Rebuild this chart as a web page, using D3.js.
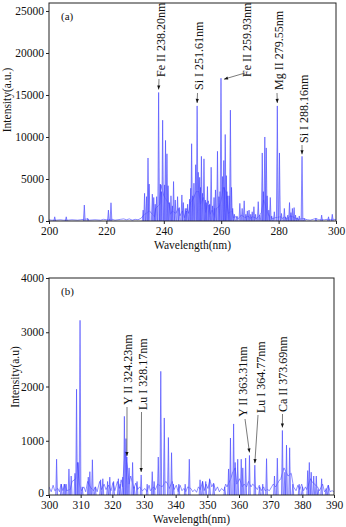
<!DOCTYPE html>
<html>
<head>
<meta charset="utf-8">
<script src="https://cdn.jsdelivr.net/npm/d3@7"></script>
<style>
    body { margin: 0; background: #fff; }
    text { font-family: "Liberation Serif", "Times New Roman", serif; }
</style>
</head>
<body>
<div id="wrapper"></div>
<script>
// panel (a): 200-300 nm
const xTicksA = [200, 220, 240, 260, 280, 300]
const yTicksA = [0, 5000, 10000, 15000, 20000, 25000]
const baseA = [
    [200,150],[201,100],[202.5,100],[204,150],[205,100],[206.6,100],[208,150],[210,100],[211,150],
    [213.5,250],[214,100],[216,150],[218,100],[219,200],[220,150],[222,200],[223,100],[225,200],
    [226,250],[227,150],[228,250],[229,100],[230,200],[231,150],[232,300],[233,700],[235,1200],
    [236.8,500],[237.2,1500],[238.6,2000],[239,4300],[240,3000],[241.8,2000],[242.3,800],[243,1200],
    [244.2,900],[245,1500],[245.6,600],[246.5,1200],[247.2,400],[248,1500],[248.7,900],[249.3,2200],
    [250.2,2600],[251.3,3500],[252.2,3500],[252.8,2000],[253.8,2800],[254.6,1000],[255.5,2400],
    [256.2,800],[256.8,1300],[257.8,400],[258.3,1500],[259.5,1800],[260.3,3000],[260.7,4000],
    [261.6,3500],[262,2000],[262.5,900],[263.8,1200],[264.3,400],[265,500],[266,300],[267,700],
    [268.3,400],[269.4,600],[270,300],[271,500],[272.4,300],[273.2,600],[274,1000],[274.8,2500],
    [276.3,800],[277.3,400],[278,300],[279,400],[280.6,500],[281.5,300],[282,500],[283,200],[284,600],
    [285,500],[286,300],[287,200],[288.5,300],[289.5,200],[290,150],[291,100],[292,200],[293,300],
    [294,150],[295.5,150],[296,150],[297,200],[298,150],[299.2,200],[300,150]
]
const peaksA = [
    [202,500],[206,500],[212.3,1900],[213.5,300],[220.7,1300],[221.6,2170],[232.8,1300],[233.3,3300],
    [234,2900],[234.5,7500],[234.9,4400],[236,3200],[236.5,2800],[237,2000],[237.5,2900],[238.2,15300],
    [238.8,4400],[239.2,3500],[239.6,12000],[240.3,4300],[240.6,9600],[241.1,8000],[241.5,4200],
    [242,2200],[242.5,3000],[243,1800],[243.4,4700],[244,2500],[244.8,2900],[245.4,1600],[246.3,3100],
    [246.8,2200],[247.5,1500],[247.9,1200],[248.3,2000],[249,2600],[249.4,3900],[249.7,9200],
    [250.1,3000],[250.5,4500],[251.1,6700],[251.61,13700],[252,5800],[252.5,5200],[252.8,4000],
    [253.1,7700],[253.5,3300],[254,7400],[254.5,2500],[254.8,2200],[255.2,4100],[255.7,1900],
    [256,2000],[256.5,6400],[257,1800],[257.5,2800],[257.8,1500],[258,3700],[258.7,8300],[259.2,2900],
    [259.6,3500],[259.93,17000],[260.5,5300],[260.9,7200],[261.1,4000],[261.4,10300],[261.8,5400],
    [262,3500],[262.3,3000],[262.8,3000],[263.2,13200],[263.6,4000],[264,1500],[264.6,800],[265.5,600],
    [266.5,2100],[267.3,1500],[268,2400],[268.6,800],[269.1,1200],[269.7,1300],[270.3,800],[270.8,1100],
    [271.4,1700],[272,800],[272.9,2300],[273.5,700],[274.3,8100],[274.7,3500],[275.2,10000],
    [275.7,8700],[276,3000],[276.6,1300],[277.1,2800],[277.6,600],[278.5,1100],[279.55,13700],
    [280.3,8100],[281,900],[282,1500],[282.5,500],[283.2,700],[283.8,2200],[284.3,1000],[284.8,1500],
    [285.4,1600],[285.9,700],[286.5,400],[287.2,600],[288.16,7700],[289,300],[293,300],[295,700],
    [297.4,500],[298.7,800]
]
const labelsA = ["Fe II 238.20nm", "Si I 251.61nm", "Fe II 259.93nm", "Mg II 279.55nm", "Si I 288.16nm"]
const linesA = [[238.2,15300],[251.61,13700],[259.93,17000],[279.55,13700],[288.16,7700]]

// panel (b): 300-390 nm
const xTicksB = [300, 310, 320, 330, 340, 350, 360, 370, 380, 390]
const yTicksB = [0, 1000, 2000, 3000, 4000]
const baseB = [
    [300,150],[300.7,60],[301.3,180],[301.8,80],[302.8,120],[303.3,60],[303.8,200],[304.4,80],[305,200],
    [305.5,80],[306.7,100],[307.3,250],[308.5,300],[309,600],[309.6,200],[310.2,80],[311,150],[311.6,60],
    [312.2,250],[313,150],[314,80],[314.7,150],[315.2,60],[316,250],[316.6,100],[317.4,200],[318,100],
    [318.8,180],[319.6,80],[320.2,230],[320.8,80],[321.6,250],[322.2,120],[322.8,280],[323.2,150],
    [324,800],[324.8,500],[325.3,200],[325.8,350],[326.8,120],[327.4,220],[328,100],[328.6,150],
    [329.5,80],[330.3,120],[331,60],[331.6,180],[332,80],[333,150],[333.6,100],[334.3,200],[335.7,150],
    [336.9,250],[337.5,200],[338,120],[338.9,250],[339.5,100],[340.2,180],[340.8,60],[341.4,180],
    [342,80],[342.6,120],[343.2,60],[343.8,150],[344.8,120],[345.4,60],[346,100],[346.6,50],[347.2,150],
    [347.8,100],[348.5,250],[349,80],[349.6,200],[350.2,120],[350.8,280],[351.4,150],[352,220],
    [352.6,80],[353.2,150],[353.8,60],[354.5,120],[355.2,80],[355.8,200],[356.2,150],[357.4,300],
    [357.9,400],[358.8,500],[359.3,200],[360.2,300],[361,150],[361.6,200],[362.4,150],[363,250],
    [363.8,150],[364.3,200],[365.2,150],[365.8,100],[366.4,180],[367,80],[367.8,150],[368.2,80],
    [369,100],[369.6,80],[370.3,150],[370.8,200],[371.6,150],[372.5,250],[373.2,300],[374.2,500],
    [375.5,350],[376.5,400],[377.2,150],[378,80],[378.6,180],[379.2,100],[379.8,200],[380.4,80],
    [381,150],[381.4,100],[382.6,300],[383,250],[383.8,200],[384.8,150],[385.4,80],[386.4,200],
    [387,60],[387.6,100],[388.2,180],[388.8,60],[389.4,80],[390,60]
]
const peaksB = [
    [302.4,660],[303.9,200],[304.8,200],[305.4,200],[306.3,480],[307,350],[308.2,400],[308.7,1950],
    [309.2,600],[309.8,3220],[310.5,150],[312.4,330],[312.9,430],[313.7,650],[314.6,150],[316.3,280],
    [317,300],[318.5,250],[319.2,330],[320.4,250],[321.9,300],[322.5,200],[323.3,330],[323.8,1450],
    [324.3,1040],[324.6,700],[325.3,500],[326.4,600],[326.9,150],[327.8,250],[329.1,370],[331,200],
    [332.6,430],[333.2,250],[334.5,700],[335.3,2280],[336.4,1420],[337.7,1060],[338.7,780],[339.3,200],
    [341,200],[343,200],[344.3,660],[347.7,280],[348.5,250],[349.5,250],[350.7,300],[352,200],
    [355.5,150],[356.7,480],[357.3,1050],[358.3,1310],[358.8,600],[359.6,660],[360.7,660],[361.2,500],
    [362.1,680],[363.3,730],[365,550],[366.5,150],[367.5,200],[368.7,670],[371.2,350],[372.1,680],
    [373.7,1190],[374.5,420],[375,920],[376,870],[377,200],[379,200],[380,150],[381.7,450],[382.2,600],
    [382.8,420],[383.6,350],[384.4,350],[385,100],[386.1,300],[387.5,120],[388.2,180]
]
const labelsB = ["Y II 324.23nm", "Lu I 328.17nm", "Y II 363.31nm", "Lu I 364.77nm", "Ca II 373.69nm"]
const linesB = [[324.3,700],[329.1,370],[363.3,730],[365,550],[373.7,1190]]

window.addEventListener("load", paint)

function paint() {
    const svg = d3.select("#wrapper")
        .append("svg")
            .attr("width", 346)
            .attr("height", 527)

    // text x, text bottom, arrow start (all px), arrow end offset from the line
    drawPanel(svg, {
        top: 3, bottom: 221, left: 49, right: 336,
        xDomain: [200, 300], yDomain: [0, 25950],
        xTicks: xTicksA, yTicks: yTicksA,
        base: baseA, peaks: peaksA, labels: labelsA, lines: linesA,
        tag: "(a)", yTitle: "Intensity(a.u.)", yTitleX: 7, yTitleY: 100,
        notes: [
            { tx: 161, ty: 77, ax: 159, ay: 79, ex: 0, ey: -3 },
            { tx: 199, ty: 90, ax: 197.5, ay: 93, ex: 0, ey: -3 },
            { tx: 247, ty: 77, ax: 245, ay: 73, ex: 3, ey: 1 },
            { tx: 279, ty: 90, ax: 277, ay: 93, ex: 0, ey: -3 },
            { tx: 304, ty: 143, ax: 302, ay: 145, ex: 0, ey: -2 }
        ]
    })

    drawPanel(svg, {
        top: 278, bottom: 495, left: 49, right: 334,
        xDomain: [300, 390], yDomain: [0, 4000],
        xTicks: xTicksB, yTicks: yTicksB,
        base: baseB, peaks: peaksB, labels: labelsB, lines: linesB,
        tag: "(b)", yTitle: "Intensity(a.u)", yTitleX: 15, yTitleY: 377,
        notes: [
            { tx: 128, ty: 405, ax: 127, ay: 407, ex: 1, ey: -1 },
            { tx: 143, ty: 410, ax: 141.5, ay: 412, ex: 0, ey: -3 },
            { tx: 243, ty: 417, ax: 245, ay: 419, ex: 0, ey: -3 },
            { tx: 261, ty: 413, ax: 258, ay: 415, ex: 0, ey: -2 },
            { tx: 283, ty: 412, ax: 282.5, ay: 414, ex: 0, ey: -3 }
        ]
    })
}

function drawPanel(svg, p) {
    const x = d3.scaleLinear().domain(p.xDomain).range([p.left, p.right])
    const y = d3.scaleLinear().domain(p.yDomain).range([p.bottom, p.top])
    const g = svg.append("g")

    const blue = "#3535ff"
    const clip = "clip" + p.tag.replace(/\W/g, "")
    g.append("clipPath").attr("id", clip)
        .append("rect")
            .attr("x", p.left).attr("y", p.top)
            .attr("width", p.right - p.left).attr("height", p.bottom - p.top)

    const plot = g.append("g").attr("clip-path", "url(#" + clip + ")")

    // baseline noise
    plot.append("path")
        .datum(p.base)
        .attr("fill", "none")
        .attr("stroke", blue).attr("stroke-width", 0.7).attr("stroke-opacity", 0.8)
        .attr("d", d3.line().x(d => x(d[0])).y(d => y(d[1])))

    // emission lines
    const hw = 0.9
    plot.selectAll(".pk").data(p.peaks).join("path")
        .attr("class", "pk")
        .attr("fill", "#a6a6ff").attr("fill-opacity", 0.7)
        .attr("stroke", blue).attr("stroke-width", 0.6).attr("stroke-opacity", 0.9)
        .attr("d", d => "M" + (x(d[0]) - hw) + "," + y(0) + "L" + x(d[0]) + "," + y(d[1])
            + "L" + (x(d[0]) + hw) + "," + y(0))

    // frame
    g.append("rect")
        .attr("x", p.left).attr("y", p.top)
        .attr("width", p.right - p.left).attr("height", p.bottom - p.top)
        .attr("fill", "none").attr("stroke", "#222").attr("stroke-width", 1)

    const xAxis = g.append("g")
        .attr("transform", "translate(0," + p.bottom + ")")
        .call(d3.axisBottom(x).tickValues(p.xTicks).tickFormat(d3.format("d")).tickSize(3).tickPadding(3))
    const yAxis = g.append("g")
        .attr("transform", "translate(" + p.left + ",0)")
        .call(d3.axisLeft(y).tickValues(p.yTicks).tickFormat(d3.format("d")).tickSize(3).tickPadding(2))
    ;[xAxis, yAxis].forEach(a => {
        a.select(".domain").remove()
        a.selectAll("text").attr("font-size", 11.5).attr("fill", "#111")
            .attr("font-family", "Liberation Serif")
        a.selectAll("line").attr("stroke", "#222")
    })
    // lift the zero label a touch so it clears the first x label
    yAxis.selectAll(".tick text").filter(d => d === 0).attr("dy", "0.1em")

    g.append("text")
        .attr("x", (p.left + p.right) / 2).attr("y", p.bottom + 28)
        .attr("text-anchor", "middle").attr("font-size", 11.5).attr("fill", "#111")
        .text("Wavelength(nm)")

    g.append("text")
        .attr("transform", "translate(" + p.yTitleX + "," + p.yTitleY + ") rotate(-90)")
        .attr("text-anchor", "middle").attr("dominant-baseline", "central")
        .attr("font-size", 11.5).attr("fill", "#111")
        .text(p.yTitle)

    g.append("text")
        .attr("x", p.left + 12).attr("y", p.top + 17)
        .attr("font-size", 11).attr("fill", "#111")
        .text(p.tag)

    // annotations
    p.notes.forEach((n, i) => {
        g.append("text")
            .attr("transform", "translate(" + n.tx + "," + n.ty + ") rotate(-90)")
            .attr("dominant-baseline", "central")
            .attr("font-size", 12).attr("fill", "#111")
            .text(p.labels[i])
        const ex = x(p.lines[i][0]) + n.ex
        const ey = y(p.lines[i][1]) + n.ey
        const ang = Math.atan2(ey - n.ay, ex - n.ax)
        g.append("line")
            .attr("x1", n.ax).attr("y1", n.ay).attr("x2", ex).attr("y2", ey)
            .attr("stroke", "#222").attr("stroke-width", 0.6)
        const L = 4, W = 1.6
        const pts = [
            [ex, ey],
            [ex - L * Math.cos(ang) + W * Math.sin(ang), ey - L * Math.sin(ang) - W * Math.cos(ang)],
            [ex - L * Math.cos(ang) - W * Math.sin(ang), ey - L * Math.sin(ang) + W * Math.cos(ang)]
        ]
        g.append("path")
            .attr("d", "M" + pts.map(q => q.join(",")).join("L") + "Z")
            .attr("fill", "#111")
    })
}
</script>
</body>
</html>
